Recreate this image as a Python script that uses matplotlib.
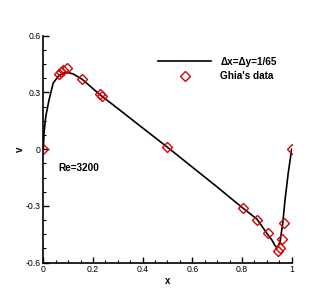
import matplotlib
matplotlib.use('Agg')
import numpy as np
import matplotlib.pyplot as plt
from matplotlib.ticker import MultipleLocator

plt.rcParams['font.family'] = ['Liberation Sans', 'DejaVu Sans']

# computed v along horizontal centerline (dx=dy=1/65)
x_sim = [0.0, 0.003, 0.01, 0.023, 0.04, 0.06, 0.08, 0.10, 0.12, 0.156, 0.2, 0.228,
         0.3, 0.4, 0.5, 0.6, 0.7, 0.8, 0.86, 0.9, 0.92, 0.933, 0.942, 0.953,
         0.964, 0.973, 0.986, 1.0]
v_sim = [0.0, 0.085, 0.173, 0.26, 0.35, 0.385, 0.402, 0.405, 0.398, 0.37, 0.32, 0.288,
         0.215, 0.112, 0.01, -0.095, -0.2, -0.308, -0.37, -0.445, -0.48, -0.51, -0.522, -0.49,
         -0.392, -0.27, -0.127, 0.0]

# Ghia et al. (1982), Re=3200
x_ghia = [1.0, 0.9688, 0.9609, 0.9531, 0.9453, 0.9063, 0.8594, 0.8047, 0.5,
          0.2344, 0.2266, 0.1563, 0.0938, 0.0781, 0.0703, 0.0625, 0.0]
v_ghia = [0.0, -0.39017, -0.47425, -0.52357, -0.54053, -0.44307, -0.37401, -0.31184, 0.00999,
          0.28188, 0.29030, 0.37119, 0.42768, 0.41906, 0.40917, 0.39560, 0.0]

fig = plt.figure(figsize=(3.32, 2.96), dpi=100)
ax = fig.add_axes([0.1304, 0.1128, 0.7482, 0.7666])

ax.plot(x_sim, v_sim, color='black', linewidth=1.2, label='Δx=Δy=1/65')
ax.plot(x_ghia, v_ghia, linestyle='none', marker='D', markersize=5, markerfacecolor='none',
        markeredgecolor='#dd0000', markeredgewidth=1.0, label="Ghia's data")

ax.set_xlim(0, 1)
ax.set_ylim(-0.6, 0.6)
ax.xaxis.set_minor_locator(MultipleLocator(0.05))
ax.yaxis.set_minor_locator(MultipleLocator(0.075))
ax.set_xticks([0, 0.2, 0.4, 0.6, 0.8, 1.0])
ax.set_xticklabels(['0', '0.2', '0.4', '0.6', '0.8', '1'])
ax.set_yticks([-0.6, -0.3, 0, 0.3, 0.6])
ax.set_yticklabels(['-0.6', '-0.3', '0', '0.3', '0.6'])
ax.tick_params(which='major', direction='in', length=4, width=1, labelsize=6.3, pad=2)
ax.tick_params(which='minor', direction='in', length=2.5, width=0.8)
ax.spines['right'].set_visible(False)
ax.spines['top'].set_visible(False)
ax.spines['left'].set_linewidth(1.2)
ax.spines['bottom'].set_linewidth(1.2)

ax.set_xlabel('x', fontsize=7, fontweight='bold', labelpad=1)
ax.set_ylabel('v', fontsize=7, fontweight='bold', labelpad=0)
ax.text(0.06, -0.1, 'Re=3200', fontsize=7.2, fontweight='bold', va='center', ha='left')

leg = ax.legend(loc='upper left', bbox_to_anchor=(0.477, 0.808), bbox_transform=fig.transFigure,
                frameon=False, prop={'size': 7.2, 'weight': 'bold'}, handlelength=5.3,
                handletextpad=0.9, labelspacing=0.45, borderaxespad=0, borderpad=0)

fig.savefig('out.png', dpi=100)
